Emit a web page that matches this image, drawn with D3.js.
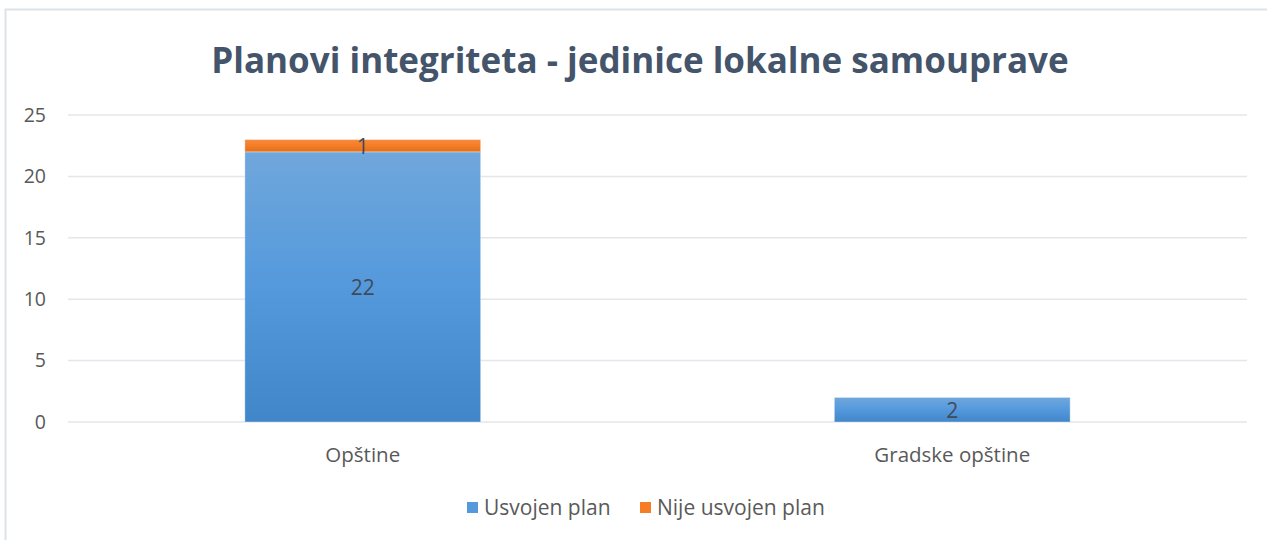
<!DOCTYPE html>
<html>
<head>
<meta charset="utf-8">
<script src="https://cdn.jsdelivr.net/npm/d3@7"></script>
<style>
  body { margin: 0; background: #fff; }
  svg { display: block; font-family: "Open Sans", "Noto Sans", sans-serif; }
</style>
</head>
<body>
<div id="chart"></div>
<script>
var categories = ["Opštine", "Gradske opštine"];
var seriesNames = ["Usvojen plan", "Nije usvojen plan"];
var usvojen = [22, 2];
var nijeUsvojen = [1, 0];
var yTicks = [0, 5, 10, 15, 20, 25];

var width = 1267, height = 540;
var margin = {top: 115, right: 20, bottom: 118, left: 68};

var svg = d3.select("#chart")
    .append("svg")
    .attr("width", width)
    .attr("height", height);

// gradients
var defs = svg.append("defs");
function grad(id, stops) {
  var g = defs.append("linearGradient")
      .attr("id", id)
      .attr("x1", 0).attr("y1", 0).attr("x2", 0).attr("y2", 1);
  stops.forEach(function(s) {
    g.append("stop").attr("offset", s[0]).attr("stop-color", s[1]);
  });
}
grad("gBlue", [[0, "#70a7dc"], [0.5, "#5499dc"], [1, "#4186c8"]]);
grad("gOrange", [[0, "#f68a3c"], [0.5, "#f47d26"], [1, "#e26f1c"]]);

// frame
svg.append("rect")
    .attr("x", 5.5).attr("y", 9.5)
    .attr("width", width).attr("height", height)
    .attr("fill", "none")
    .attr("stroke", "#dde3ea")
    .attr("stroke-width", 2);

var w = width - margin.left - margin.right,
    h = height - margin.top - margin.bottom;

var x = d3.scaleBand()
    .domain(categories)
    .range([0, w])
    .paddingInner(0.6)
    .paddingOuter(0.3);

var y = d3.scaleLinear()
    .domain([0, 25])
    .range([h, 0]);

var g = svg.append("g")
    .attr("transform", "translate(" + margin.left + "," + margin.top + ")");

// title
svg.append("text")
    .attr("x", 640)
    .attr("y", 73)
    .attr("text-anchor", "middle")
    .attr("fill", "#44546a")
    .style("font-size", "35px")
    .style("font-weight", "bold")
    .text("Planovi integriteta - jedinice lokalne samouprave");

// grid
g.append("g")
    .selectAll("line")
    .data(yTicks)
    .enter().append("line")
    .attr("x1", 0)
    .attr("x2", w)
    .attr("y1", function(d) { return y(d); })
    .attr("y2", function(d) { return y(d); })
    .attr("stroke", "#e3e6ea")
    .attr("stroke-width", 1.5);

// y axis labels
var yAxis = g.append("g")
    .attr("transform", "translate(-22,0)")
    .call(d3.axisLeft(y).tickValues(yTicks).tickSize(0).tickPadding(0));
yAxis.select(".domain").remove();
yAxis.selectAll("text")
    .attr("fill", "#595959")
    .style("font-size", "19.5px")
    .style("font-family", "'Open Sans', sans-serif");

// x axis labels
var xAxis = g.append("g")
    .attr("transform", "translate(0," + h + ")")
    .call(d3.axisBottom(x).tickSize(0).tickPadding(25));
xAxis.select(".domain").remove();
xAxis.selectAll("text")
    .attr("fill", "#595959")
    .style("font-size", "20.5px")
    .style("font-family", "'Open Sans', sans-serif");

// stacked data
var rows = categories.map(function(c, i) {
  return {cat: c, "Usvojen plan": usvojen[i], "Nije usvojen plan": nijeUsvojen[i]};
});
var stack = d3.stack().keys(seriesNames)(rows);
var fills = ["url(#gBlue)", "url(#gOrange)"];

var layers = g.selectAll(".layer")
    .data(stack)
    .enter().append("g")
    .attr("class", "layer")
    .attr("fill", function(d, i) { return fills[i]; });

layers.selectAll("rect")
    .data(function(d) { return d.filter(function(p) { return p[1] - p[0] > 0; }); })
    .enter().append("rect")
    .attr("x", function(d) { return x(d.data.cat); })
    .attr("y", function(d) { return y(d[1]); })
    .attr("width", x.bandwidth())
    .attr("height", function(d) { return y(d[0]) - y(d[1]); })
    .attr("stroke", "rgba(255,255,255,0.35)")
    .attr("stroke-width", 1);

// value labels
layers.selectAll("text")
    .data(function(d) { return d.filter(function(p) { return p[1] - p[0] > 0; }); })
    .enter().append("text")
    .attr("x", function(d) { return x(d.data.cat) + x.bandwidth() / 2; })
    .attr("y", function(d) { return (y(d[0]) + y(d[1])) / 2; })
    .attr("dy", "0.4em")
    .attr("text-anchor", "middle")
    .attr("fill", "#404b5a")
    .style("font-size", "21px")
    .text(function(d) { return d[1] - d[0]; });

// legend
var legendColors = ["#5599dc", "#f47d26"];
var legendX = [467, 640];
var legend = svg.append("g")
    .selectAll("g")
    .data(seriesNames)
    .enter().append("g")
    .attr("transform", function(d, i) { return "translate(" + legendX[i] + ",502)"; });
legend.append("rect")
    .attr("width", 11).attr("height", 11)
    .attr("fill", function(d, i) { return legendColors[i]; });
legend.append("text")
    .attr("x", 17)
    .attr("y", 12.5)
    .attr("fill", "#595959")
    .style("font-size", "21px")
    .text(function(d) { return d; });
</script>
</body>
</html>
